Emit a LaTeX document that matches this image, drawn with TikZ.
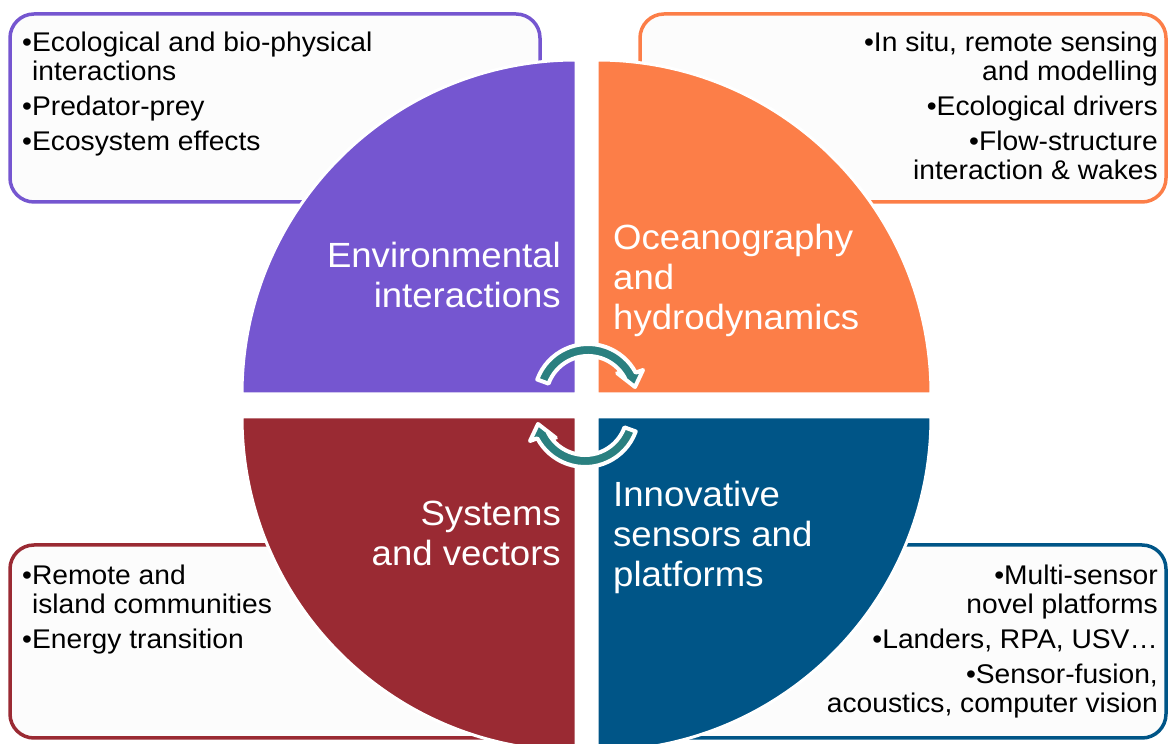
\documentclass[tikz,border=0pt]{standalone}
\usepackage{fontspec}
\setmainfont[FakeStretch=1.045]{Liberation Sans}
\usetikzlibrary{positioning}
\definecolor{envpurple}{HTML}{7556D0}
\definecolor{oceorange}{HTML}{FC7E48}
\definecolor{sysred}{HTML}{9A2A33}
\definecolor{senblue}{HTML}{005587}
\definecolor{cycteal}{HTML}{2A8080}
\tikzset{
  infobox/.style={line width=3.5pt,rounded corners=24pt,fill=white!99!black},
  quarter/.style={draw=white,line width=3pt},
  title/.style={text=white,inner sep=0pt,font=\fontsize{35}{40}\selectfont},
  bullets/.style={inner sep=0pt,font=\fontsize{27}{29}\selectfont},
  cyclearrow/.style={fill=cycteal,draw=white,line width=4pt,line join=round},
}
\begin{document}
\begin{tikzpicture}[x=1pt,y=1pt]
\useasboundingbox (0,0) rectangle (1170,744);
% text boxes behind the pie
\draw[infobox,draw=envpurple] (10,542) rectangle (540,730);
\draw[infobox,draw=oceorange] (640,542) rectangle (1166,730);
\draw[infobox,draw=sysred] (10,6) rectangle (545,199);
\draw[infobox,draw=senblue] (600,6) rectangle (1166,199);
% four quarters
\begin{scope}
\clip (0,0) rectangle (1170,744);
\draw[quarter,fill=envpurple] (576,350) -- ++(-334,0) arc[start angle=180,end angle=90,radius=334] -- cycle;
\draw[quarter,fill=oceorange] (597,350) -- ++(0,334) arc[start angle=90,end angle=0,radius=334] -- cycle;
\draw[quarter,fill=sysred] (576,327) -- ++(0,-334) arc[start angle=270,end angle=180,radius=334] -- cycle;
\draw[quarter,fill=senblue] (597,327) -- ++(334,0) arc[start angle=0,end angle=-90,radius=334] -- cycle;
\end{scope}
% titles
\node[title,anchor=north east,align=right] (envtitle) at (561,502) {Environmental\\interactions};
\node[title,anchor=north west,align=left] (ocetitle) at (613,520) {Oceanography\\and\\hydrodynamics};
\node[title,anchor=north east,align=right] (systitle) at (561,243) {Systems\\and vectors};
\node[title,anchor=north west,align=left] (sentitle) at (613,263) {Innovative\\sensors and\\platforms};
% bullet lists
\node[bullets,anchor=north west,align=left] (envlist) at (22,712)
  {•Ecological and bio-physical\\\phantom{•}interactions\\[6pt]•Predator-prey\\[6pt]•Ecosystem effects};
\node[bullets,anchor=north east,align=right] (ocelist) at (1158,712)
  {•In situ, remote sensing\\and modelling\\[6pt]•Ecological drivers\\[6pt]•Flow-structure\\interaction \& wakes};
\node[bullets,anchor=north west,align=left] (syslist) at (22,179)
  {•Remote and\\\phantom{•}island communities\\[6pt]•Energy transition};
\node[bullets,anchor=north east,align=right] (senlist) at (1158,179)
  {•Multi-sensor\\novel platforms\\[6pt]•Landers, RPA, USV…\\[6pt]•Sensor-fusion,\\acoustics, computer vision};
% cycle arrows
\begin{scope}[shift={(588,346)}]
\draw[cyclearrow] (160:54) arc[start angle=160,end angle=28,radius=54] -- (55,28) -- (47,11)
  -- (29,25) -- (28:42) arc[start angle=28,end angle=160,radius=42] -- cycle;
\end{scope}
\begin{scope}[shift={(585,331)}]
\draw[cyclearrow] (340:54) arc[start angle=340,end angle=208,radius=54] -- (-55,-28) -- (-47,-11)
  -- (-29,-25) -- (208:42) arc[start angle=208,end angle=340,radius=42] -- cycle;
\end{scope}
\end{tikzpicture}
\end{document}
